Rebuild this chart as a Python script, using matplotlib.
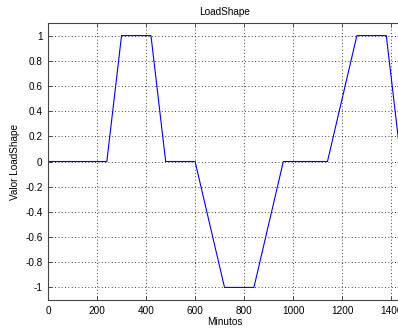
import matplotlib
matplotlib.use("Agg")
import matplotlib.pyplot as plt

# breakpoints of the load shape (minutes, value)
minutos = [0, 240, 300, 420, 480, 600, 720, 840, 960, 1140, 1260, 1380, 1440]
valores = [0, 0, 1, 1, 0, 0, -1, -1, 0, 0, 1, 1, 0]

x_ticks = [0, 200, 400, 600, 800, 1000, 1200, 1400]
y_ticks = [-1, -0.8, -0.6, -0.4, -0.2, 0, 0.2, 0.4, 0.6, 0.8, 1]
y_labels = ["-1", "-0.8", "-0.6", "-0.4", "-0.2", "0", "0.2", "0.4", "0.6", "0.8", "1"]

plt.rcParams['font.family'] = ['Liberation Sans', 'DejaVu Sans']
plt.rcParams['font.size'] = 7.2

fig = plt.figure(figsize=(3.98, 3.31), dpi=100)
# axes run a little past the right edge, as in the cropped original
ax = fig.add_axes([48 / 398, 31 / 331, 353 / 398, 277 / 331])

ax.plot(minutos, valores, color='#0000ff', linewidth=0.8)

ax.set_xlim(0, 1440)
ax.set_ylim(-1.1, 1.1)
ax.set_xticks(x_ticks)
ax.set_yticks(y_ticks)
ax.set_yticklabels(y_labels)

ax.grid(True, linestyle=(0, (1, 3)), color='black', linewidth=0.6)
ax.tick_params(direction='in', top=True, right=True, length=3, width=0.6,
               colors='#333333', labelcolor='black', pad=4)
for s in ax.spines.values():
    s.set_color('#444444')
    s.set_linewidth(0.8)

ax.set_title('LoadShape', fontsize=7.2, pad=6)
ax.set_xlabel('Minutos', labelpad=1)
ax.set_ylabel('Valor LoadShape', labelpad=4)

fig.savefig('out.png', dpi=100)
